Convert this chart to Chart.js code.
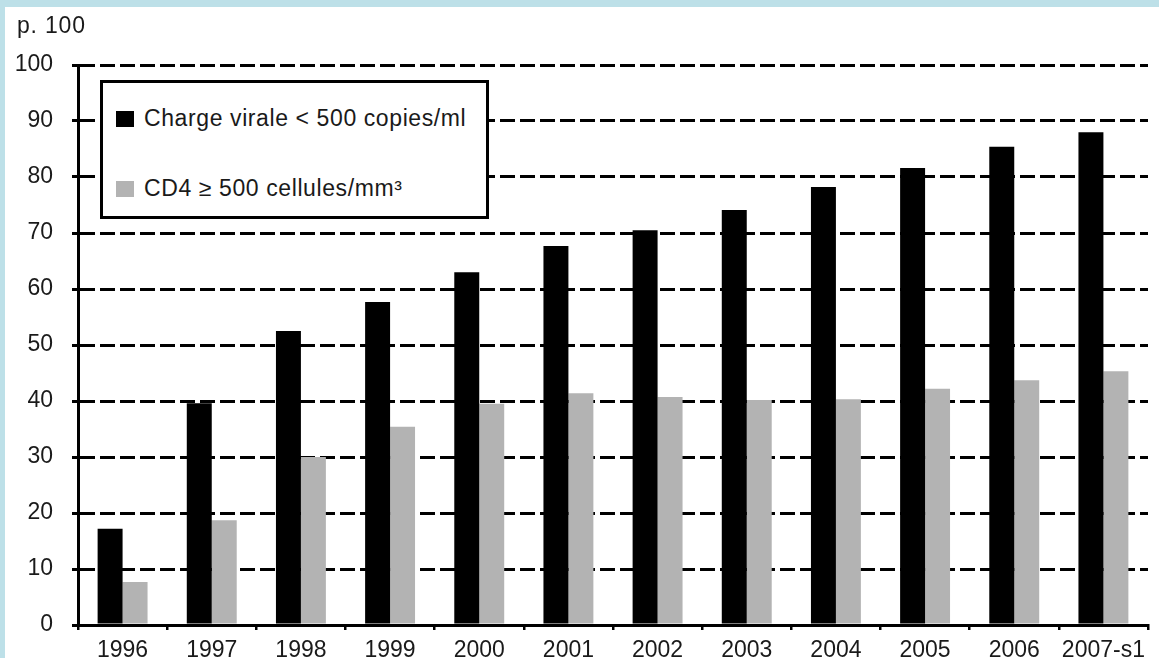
<!DOCTYPE html>
<html>
<head>
<meta charset="utf-8">
<script src="https://cdn.jsdelivr.net/npm/chart.js@4"></script>
<style>
  html, body { margin: 0; padding: 0; }
  body { width: 1159px; height: 658px; overflow: hidden; background: #bde0e8; position: relative; }
  #frame { position: absolute; left: 5px; top: 7px; width: 1154px; height: 651px; background: #fff; }
  #chart { position: absolute; left: 0; top: 0; }
  #unit { position: absolute; left: 12px; top: 5px; font: 23px "Liberation Sans", Arial, sans-serif;
          letter-spacing: 0.8px; color: #1a1a1a; }
  #legend { position: absolute; left: 95px; top: 73px; width: 383px; height: 133px;
            border: 3px solid #000; background: #fff; font: 23px "Liberation Sans", Arial, sans-serif;
            letter-spacing: 0.6px; color: #1a1a1a; }
  .item { position: absolute; left: 13px; height: 26px; line-height: 26px; white-space: nowrap; }
  .swatch { display: inline-block; width: 18px; height: 16px; margin-right: 10px; vertical-align: -1px; }
</style>
</head>
<body>
<div id="frame">
  <canvas id="chart" width="1154" height="651"></canvas>
  <div id="unit">p. 100</div>
  <div id="legend"></div>
</div>

<script>
const years = ["1996", "1997", "1998", "1999", "2000", "2001", "2002", "2003", "2004", "2005", "2006", "2007-s1"];

const chargeVirale = [17.2, 39.6, 52.5, 57.7, 63.0, 67.7, 70.5, 74.1, 78.2, 81.6, 85.4, 88.0];
const cd4 = [7.7, 18.7, 30.0, 35.4, 39.5, 41.4, 40.7, 40.2, 40.3, 42.2, 43.7, 45.3];

const yTicks = [0, 10, 20, 30, 40, 50, 60, 70, 80, 90, 100];

const FONT = { family: "'Liberation Sans', Arial, sans-serif", size: 23 };

/* ========================================
   CHART
======================================== */
const datasets = [
  { label: "Charge virale < 500 copies/ml", data: chargeVirale, backgroundColor: "#000000" },
  { label: "CD4 ≥ 500 cellules/mm³", data: cd4, backgroundColor: "#b3b3b3" }
];

const chart = new Chart(document.getElementById("chart"), {
  type: "bar",
  data: {
    labels: years,
    datasets: datasets.map(d => ({
      ...d,
      borderWidth: 0,
      categoryPercentage: 0.56,
      barPercentage: 1.0
    }))
  },
  options: {
    responsive: false,
    animation: false,
    layout: { padding: { top: 58, right: 11, left: 0, bottom: 0 } },
    plugins: {
      legend: { display: false },
      tooltip: { enabled: false }
    },
    scales: {
      x: {
        afterFit: s => { s.height = 33; },
        grid: {
          display: true,
          drawOnChartArea: false,
          drawTicks: true,
          tickLength: 5,
          color: "#000",
          lineWidth: 2.5,
          offset: true
        },
        border: { display: true, color: "#000", width: 3 },
        ticks: { color: "#1a1a1a", font: FONT, padding: 7, maxRotation: 0, autoSkip: false }
      },
      y: {
        min: 0,
        max: 100,
        afterFit: s => { s.width = 73; },
        afterBuildTicks: s => { s.ticks = yTicks.map(v => ({ value: v })); },
        grid: {
          color: "#000",
          lineWidth: 3,
          drawTicks: true,
          tickLength: 6
        },
        border: { display: true, color: "#000", width: 3, dash: [15, 5] },
        ticks: { color: "#1a1a1a", font: FONT, padding: 19 }
      }
    }
  }
});

/* ========================================
   LEGEND (boxed, inside the plot)
======================================== */
const legend = document.getElementById("legend");
datasets.forEach((d, i) => {
  const row = document.createElement("div");
  row.className = "item";
  row.style.top = (i === 0 ? 22 : 92) + "px";
  const sw = document.createElement("span");
  sw.className = "swatch";
  sw.style.background = d.backgroundColor;
  row.appendChild(sw);
  row.appendChild(document.createTextNode(d.label));
  legend.appendChild(row);
});
</script>
</body>
</html>
